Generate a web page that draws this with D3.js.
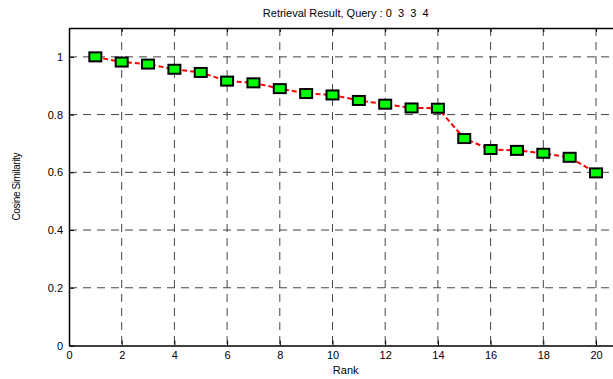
<!DOCTYPE html>
<html>
<head>
<meta charset="utf-8">
<script src="https://cdn.jsdelivr.net/npm/d3@7"></script>
<style>
  body { margin: 0; background: #fff; }
  text { font-family: "Liberation Sans", Arial, sans-serif; }
</style>
</head>
<body>
<svg id="chart"></svg>
<script>
// values
var ranks = [1, 2, 3, 4, 5, 6, 7, 8, 9, 10, 11, 12, 13, 14, 15, 16, 17, 18, 19, 20];
var similarity = [1.0, 0.982, 0.975, 0.957, 0.946, 0.916, 0.910, 0.890, 0.873, 0.868,
                  0.849, 0.836, 0.823, 0.822, 0.717, 0.679, 0.676, 0.666, 0.652, 0.598];
var xTicks = [0, 2, 4, 6, 8, 10, 12, 14, 16, 18, 20];
var yTicks = [0, 0.2, 0.4, 0.6, 0.8, 1];

var width = 613;
var height = 379;
var plotLeft = 69, plotTop = 28, plotBottom = 345.5;
var unit = 26.35;

var svg = d3.select("#chart")
    .attr("width", width)
    .attr("height", height);

var xScale = d3.scaleLinear()
    .domain([0, 21])
    .range([plotLeft, plotLeft + 21 * unit]);

var yScale = d3.scaleLinear()
    .domain([0, 1.1])
    .range([plotBottom, plotTop]);

// grid lines
svg.append("g")
    .selectAll("line")
    .data(xTicks.filter(function(d) { return d > 0; }))
    .enter()
    .append("line")
    .attr("x1", function(d) { return xScale(d); })
    .attr("x2", function(d) { return xScale(d); })
    .attr("y1", plotTop)
    .attr("y2", plotBottom)
    .attr("stroke", "#444")
    .attr("stroke-width", 1)
    .attr("stroke-dasharray", "8,6");

svg.append("g")
    .selectAll("line")
    .data(yTicks.filter(function(d) { return d > 0; }))
    .enter()
    .append("line")
    .attr("x1", plotLeft)
    .attr("x2", xScale(21))
    .attr("y1", function(d) { return yScale(d); })
    .attr("y2", function(d) { return yScale(d); })
    .attr("stroke", "#444")
    .attr("stroke-width", 1)
    .attr("stroke-dasharray", "8,6");

// x axis (ticks pointing inward)
var x_axis = d3.axisBottom(xScale)
    .tickValues(xTicks)
    .tickSizeInner(-5)
    .tickSizeOuter(0)
    .tickPadding(6)
    .tickFormat(d3.format("d"));

var gx = svg.append("g")
    .attr("transform", "translate(0," + plotBottom + ")")
    .call(x_axis);
gx.select(".domain").attr("stroke", "#000").attr("stroke-width", 1.5);
gx.selectAll("text").attr("font-size", "11px").attr("fill", "#000");

// top box line with inward ticks
var top_axis = d3.axisTop(xScale)
    .tickValues(xTicks)
    .tickSizeInner(-4)
    .tickSizeOuter(0)
    .tickFormat("");

var gt = svg.append("g")
    .attr("transform", "translate(0," + plotTop + ")")
    .call(top_axis);
gt.select(".domain").attr("stroke", "#000").attr("stroke-width", 1.5);

// y axis
var y_axis = d3.axisLeft(yScale)
    .tickValues(yTicks)
    .tickSizeInner(-5)
    .tickSizeOuter(0)
    .tickPadding(6)
    .tickFormat(function(d) { return d3.format("")(d); });

var gy = svg.append("g")
    .attr("transform", "translate(" + plotLeft + ",0)")
    .call(y_axis);
gy.select(".domain").attr("stroke", "#000").attr("stroke-width", 1.5);
gy.selectAll("text").attr("font-size", "11px").attr("fill", "#000");

// dashed red line
var line = d3.line()
    .x(function(d, i) { return xScale(ranks[i]); })
    .y(function(d) { return yScale(d); });

svg.append("path")
    .datum(similarity)
    .attr("d", line)
    .attr("fill", "none")
    .attr("stroke", "#ff0000")
    .attr("stroke-width", 2)
    .attr("stroke-dasharray", "5,3");

// square markers
svg.append("g")
    .selectAll("rect")
    .data(similarity)
    .enter()
    .append("rect")
    .attr("x", function(d, i) { return xScale(ranks[i]) - 6; })
    .attr("y", function(d) { return yScale(d) - 4.5; })
    .attr("width", 12)
    .attr("height", 9)
    .attr("fill", "#00ff00")
    .attr("stroke", "#000")
    .attr("stroke-width", 2);

// title
svg.append("text")
    .attr("x", xScale(10.5))
    .attr("y", 17)
    .attr("text-anchor", "middle")
    .attr("font-size", "11px")
    .style("white-space", "pre")
    .text("Retrieval Result, Query : 0  3  3  4");

// axis labels
svg.append("text")
    .attr("x", xScale(10.5))
    .attr("y", 374)
    .attr("text-anchor", "middle")
    .attr("font-size", "11px")
    .text("Rank");

svg.append("text")
    .attr("transform", "translate(20," + ((plotTop + plotBottom) / 2) + ") rotate(-90)")
    .attr("text-anchor", "middle")
    .attr("font-size", "10px")
    .attr("letter-spacing", "-0.4px")
    .text("Cosine Similarity");
</script>
</body>
</html>
